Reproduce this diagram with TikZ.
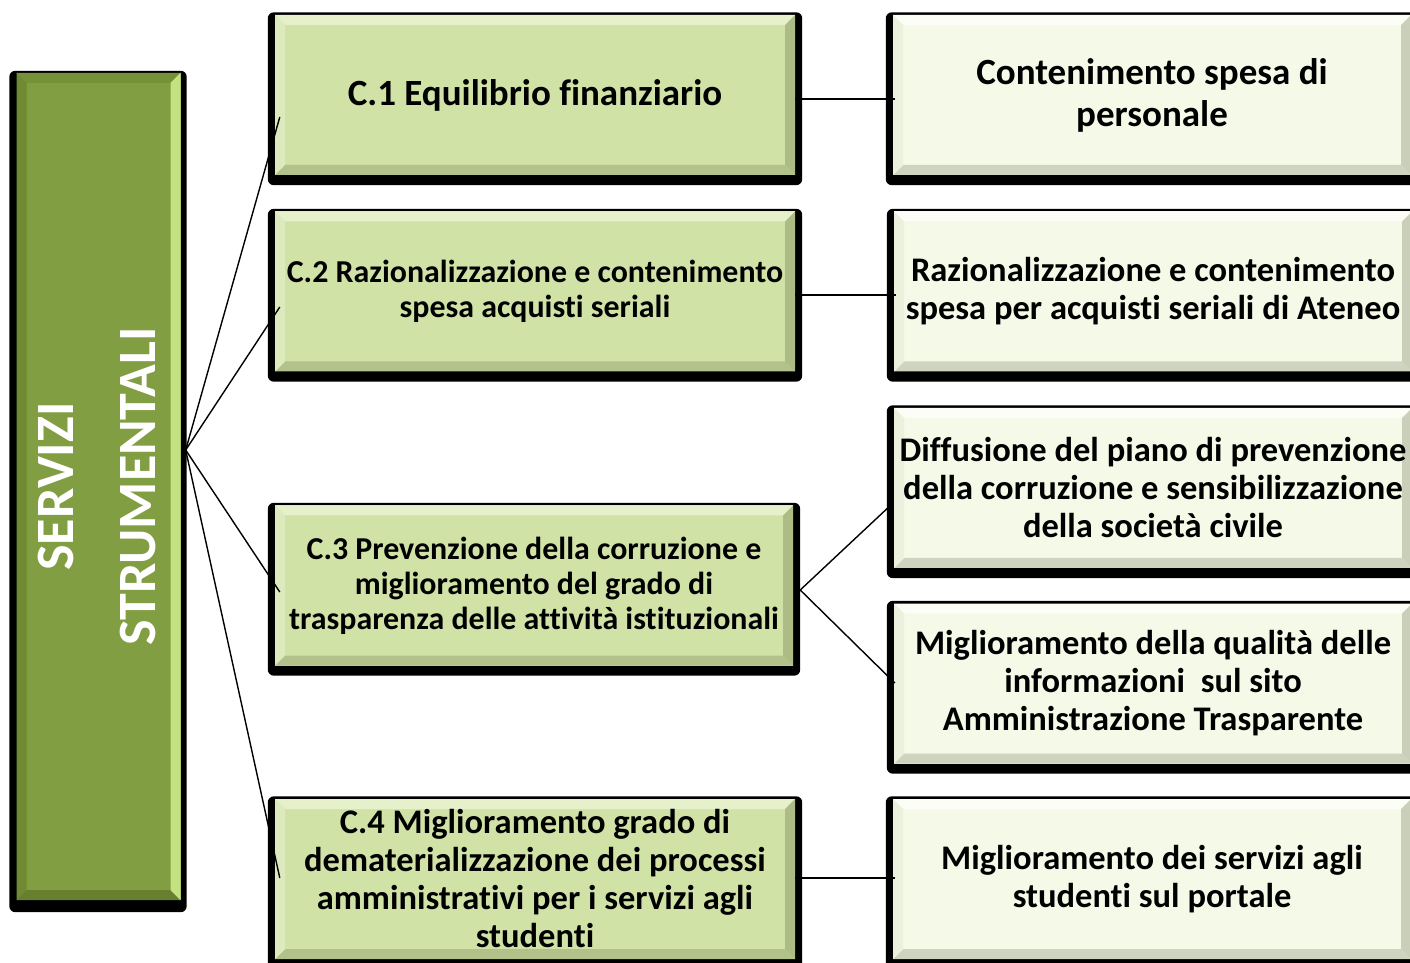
\documentclass[tikz,border=0pt]{standalone}
\usepackage{fontspec}
\setmainfont{Carlito}[Ligatures=NoCommon]
\usetikzlibrary{calc,backgrounds}
\definecolor{lface}{RGB}{130,158,66}
\definecolor{ltop}{RGB}{118,145,56}
\definecolor{lleft}{RGB}{112,138,52}
\definecolor{lright}{RGB}{196,226,128}
\definecolor{lbot}{RGB}{104,128,46}
\definecolor{mface}{RGB}{209,226,167}
\definecolor{mtop}{RGB}{230,241,204}
\definecolor{mleft}{RGB}{221,234,190}
\definecolor{mright}{RGB}{172,188,132}
\definecolor{mbot}{RGB}{178,194,138}
\definecolor{rface}{RGB}{245,249,232}
\definecolor{rtop}{RGB}{252,253,246}
\definecolor{rleft}{RGB}{236,241,221}
\definecolor{rright}{RGB}{202,207,186}
\definecolor{rbot}{RGB}{207,212,192}
\tikzset{
  bevelbox/.style args={#1/#2/#3/#4/#5}{rectangle, inner sep=0pt, fill=#1,
    path picture={
      \def\bw{10}
      \coordinate (bbsw) at (path picture bounding box.south west);
      \coordinate (bbne) at (path picture bounding box.north east);
      \fill[#2] (bbsw |- bbne) -- (bbne) -- ($(bbne)+(-\bw,-\bw)$) -- ($(bbsw |- bbne)+(\bw,-\bw)$) -- cycle;
      \fill[#5] (bbsw) -- (bbne |- bbsw) -- ($(bbne |- bbsw)+(-\bw,\bw)$) -- ($(bbsw)+(\bw,\bw)$) -- cycle;
      \fill[#3] (bbsw) -- (bbsw |- bbne) -- ($(bbsw |- bbne)+(\bw,-\bw)$) -- ($(bbsw)+(\bw,\bw)$) -- cycle;
      \fill[#4] (bbne |- bbsw) -- (bbne) -- ($(bbne)+(-\bw,-\bw)$) -- ($(bbne |- bbsw)+(-\bw,\bw)$) -- cycle;
    }},
  leftbox/.style={bevelbox=lface/ltop/lleft/lright/lbot, minimum width=159, minimum height=827,
    text=white, align=center, font=\bfseries\fontsize{54}{82}\selectfont},
  midbox/.style={bevelbox=mface/mtop/mleft/mright/mbot, minimum width=520, minimum height=160,
    align=center, font=\bfseries\fontsize{31.9}{35}\selectfont},
  rightbox/.style={bevelbox=rface/rtop/rleft/rright/rbot, minimum width=518, minimum height=160,
    align=center, font=\bfseries\fontsize{34.5}{38}\selectfont},
  conn/.style={draw=black, line width=1.4pt},
}
\begin{document}
\begin{tikzpicture}[x=1pt,y=1pt]
\useasboundingbox (0,0) rectangle (1410,962);
\clip (0,0) rectangle (1410,962);
\begin{pgfonlayer}{background}
  \fill[white] (0,0) rectangle (1410,962);
\end{pgfonlayer}

\node[leftbox] (lb) at (98.5,475.5) {\rotatebox{90}{\begin{tabular}{c}SERVIZI\\STRUMENTALI\end{tabular}}};

\node[midbox, font=\bfseries\fontsize{37}{42}\selectfont] (c1) at (535,867) {C.1 Equilibrio finanziario};
\node[midbox] (c2) at (535,670.5) {C.2 Razionalizzazione e contenimento\\spesa acquisti seriali};
\node[midbox, minimum width=518] (c3) at (534,376.5) {C.3 Prevenzione della corruzione e\\miglioramento del grado di\\trasparenza delle attività istituzionali};
\node[midbox, font=\bfseries\fontsize{34.5}{38}\selectfont] (c4) at (535,83) {C.4 Miglioramento grado di\\dematerializzazione dei processi\\amministrativi per i servizi agli\\studenti};

\node[rightbox, font=\bfseries\fontsize{37}{42}\selectfont] (r1) at (1152,867) {Contenimento spesa di\\personale};
\node[rightbox] (r2) at (1153,670.5) {Razionalizzazione e contenimento\\spesa per acquisti seriali di Ateneo};
\node[rightbox] (r3) at (1153,474) {Diffusione del piano di prevenzione\\della corruzione e sensibilizzazione\\della società civile};
\node[rightbox] (r4) at (1153,278.5) {Miglioramento della qualità delle\\informazioni\ \ sul sito\\Amministrazione Trasparente};
\node[rightbox] (r5) at (1152,83) {Miglioramento dei servizi agli\\studenti sul portale};

\begin{pgfonlayer}{background}
  \fill[black, rounded corners=6] ([shift={(-7,-12)}]lb.south west) rectangle ([shift={(6,2)}]lb.north east);
  \foreach \n in {c1,c2,c3,c4,r1,r2,r3,r4,r5}
    \fill[black, rounded corners=6] ([shift={(-7,-10)}]\n.south west) rectangle ([shift={(7,2.5)}]\n.north east);
\end{pgfonlayer}

\coordinate (hub) at ([shift={(5,36.5)}]lb.east);
\draw[conn] (hub) -- ([shift={(5,-22)}]c1.west);
\draw[conn] (hub) -- ([shift={(5,-15.5)}]c2.west);
\draw[conn] (hub) -- ([shift={(5,-6.5)}]c3.west);
\draw[conn] (hub) -- ([shift={(5,1)}]c4.west);

\draw[conn] ([shift={(0,-4)}]c1.east) -- ([shift={(2,-4)}]r1.west);
\draw[conn] ([shift={(0,-3.5)}]c2.east) -- ([shift={(2,-3.5)}]r2.west);
\draw[conn] ([shift={(7,-4.5)}]c3.east) -- ([shift={(-5,-19)}]r3.west);
\draw[conn] ([shift={(7,-4.5)}]c3.east) -- ([shift={(1,0.5)}]r4.west);
\draw[conn] ([shift={(0,1)}]c4.east) -- ([shift={(2,1)}]r5.west);
\end{tikzpicture}
\end{document}
